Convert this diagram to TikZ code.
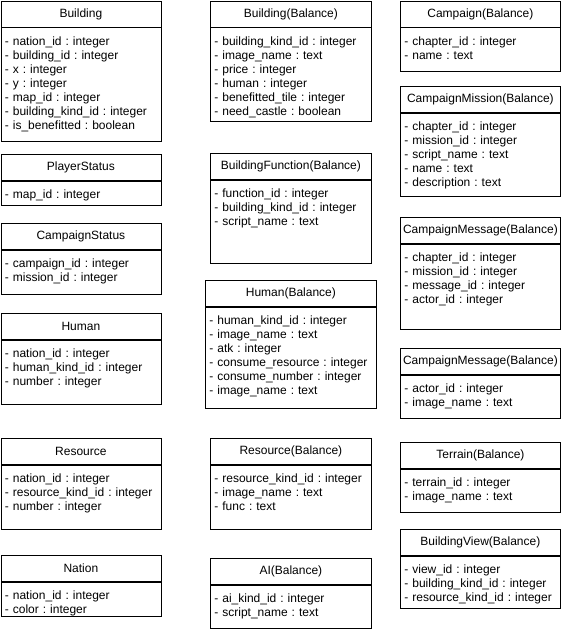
\documentclass[tikz,border=0pt]{standalone}
\usepackage{fontspec}
\setmainfont{Liberation Sans}
\usepackage{tikz}
\usetikzlibrary{positioning}
\frenchspacing

\begin{document}
\begin{tikzpicture}[x=1pt,y=-1pt,
  every node/.style={font=\fontsize{12}{14}\selectfont},
  classhead/.style={draw,line width=0.8pt,anchor=north west,inner sep=0pt,minimum height=26pt},
  classbody/.style={draw,line width=0.8pt,anchor=north,inner xsep=4pt,inner ysep=0pt,align=left,text height=17.5pt}]
  \useasboundingbox (0,0) rectangle (561,632);

  % ── Left column ──
  \node[classhead,minimum width=160pt] (building) at (0.5,0.5) {Building};
  \node[classbody,below=0pt of building,text width=152pt,text depth=96.5pt] (building-attrs)
    {- nation\_id : integer\\- building\_id : integer\\- x : integer\\- y : integer\\- map\_id : integer\\- building\_kind\_id : integer\\- is\_benefitted : boolean};

  \node[classhead,minimum width=160pt] (playerstatus) at (0.5,154) {PlayerStatus};
  \node[classbody,below=0pt of playerstatus,text width=152pt,text depth=6.5pt] (playerstatus-attrs)
    {- map\_id : integer};

  \node[classhead,minimum width=160pt] (campaignstatus) at (0.5,223) {CampaignStatus};
  \node[classbody,below=0pt of campaignstatus,text width=152pt,text depth=26.5pt] (campaignstatus-attrs)
    {- campaign\_id : integer\\- mission\_id : integer};

  \node[classhead,minimum width=160pt] (human) at (0.5,313) {Human};
  \node[classbody,below=0pt of human,text width=152pt,text depth=46.5pt] (human-attrs)
    {- nation\_id : integer\\- human\_kind\_id : integer\\- number : integer};

  \node[classhead,minimum width=160pt] (resource) at (0.5,438) {Resource};
  \node[classbody,below=0pt of resource,text width=152pt,text depth=46.5pt] (resource-attrs)
    {- nation\_id : integer\\- resource\_kind\_id : integer\\- number : integer};

  \node[classhead,minimum width=160pt] (nation) at (0.5,555) {Nation};
  \node[classbody,below=0pt of nation,text width=152pt,text depth=16.5pt] (nation-attrs)
    {- nation\_id : integer\\- color : integer};

  % ── Middle column ──
  \node[classhead,minimum width=161pt] (buildingbal) at (210,0.5) {Building(Balance)};
  \node[classbody,below=0pt of buildingbal,text width=153pt,text depth=76.5pt] (buildingbal-attrs)
    {- building\_kind\_id : integer\\- image\_name : text\\- price : integer\\- human : integer\\- benefitted\_tile : integer\\- need\_castle : boolean};

  \node[classhead,minimum width=161pt] (buildingfunc) at (210,153) {BuildingFunction(Balance)};
  \node[classbody,below=0pt of buildingfunc,text width=153pt,text depth=65.5pt] (buildingfunc-attrs)
    {- function\_id : integer\\- building\_kind\_id : integer\\- script\_name : text};

  \node[classhead,minimum width=171pt] (humanbal) at (205,280) {Human(Balance)};
  \node[classbody,below=0pt of humanbal,text width=163pt,text depth=83.5pt] (humanbal-attrs)
    {- human\_kind\_id : integer\\- image\_name : text\\- atk : integer\\- consume\_resource : integer\\- consume\_number : integer\\- image\_name : text};

  \node[classhead,minimum width=161pt] (resourcebal) at (210,438) {Resource(Balance)};
  \node[classbody,below=0pt of resourcebal,text width=153pt,text depth=46.5pt] (resourcebal-attrs)
    {- resource\_kind\_id : integer\\- image\_name : text\\- func : text};

  \node[classhead,minimum width=161pt] (aibal) at (210,558) {AI(Balance)};
  \node[classbody,below=0pt of aibal,text width=153pt,text depth=25.5pt] (aibal-attrs)
    {- ai\_kind\_id : integer\\- script\_name : text};

  % ── Right column ──
  \node[classhead,minimum width=160pt] (campaign) at (400,0.5) {Campaign(Balance)};
  \node[classbody,below=0pt of campaign,text width=152pt,text depth=26.5pt] (campaign-attrs)
    {- chapter\_id : integer\\- name : text};

  \node[classhead,minimum width=160pt] (campmission) at (400,86) {CampaignMission(Balance)};
  \node[classbody,below=0pt of campmission,text width=152pt,text depth=65.5pt] (campmission-attrs)
    {- chapter\_id : integer\\- mission\_id : integer\\- script\_name : text\\- name : text\\- description : text};

  \node[classhead,minimum width=160pt] (campmessage) at (400,217) {CampaignMessage(Balance)};
  \node[classbody,below=0pt of campmessage,text width=152pt,text depth=67.5pt] (campmessage-attrs)
    {- chapter\_id : integer\\- mission\_id : integer\\- message\_id : integer\\- actor\_id : integer};

  \node[classhead,minimum width=160pt] (campactor) at (400,348) {CampaignMessage(Balance)};
  \node[classbody,below=0pt of campactor,text width=152pt,text depth=25.5pt] (campactor-attrs)
    {- actor\_id : integer\\- image\_name : text};

  \node[classhead,minimum width=160pt] (terrain) at (400,442) {Terrain(Balance)};
  \node[classbody,below=0pt of terrain,text width=152pt,text depth=25.5pt] (terrain-attrs)
    {- terrain\_id : integer\\- image\_name : text};

  \node[classhead,minimum width=160pt] (buildingview) at (400,529) {BuildingView(Balance)};
  \node[classbody,below=0pt of buildingview,text width=152pt,text depth=34.5pt] (buildingview-attrs)
    {- view\_id : integer\\- building\_kind\_id : integer\\- resource\_kind\_id : integer};
\end{tikzpicture}
\end{document}
